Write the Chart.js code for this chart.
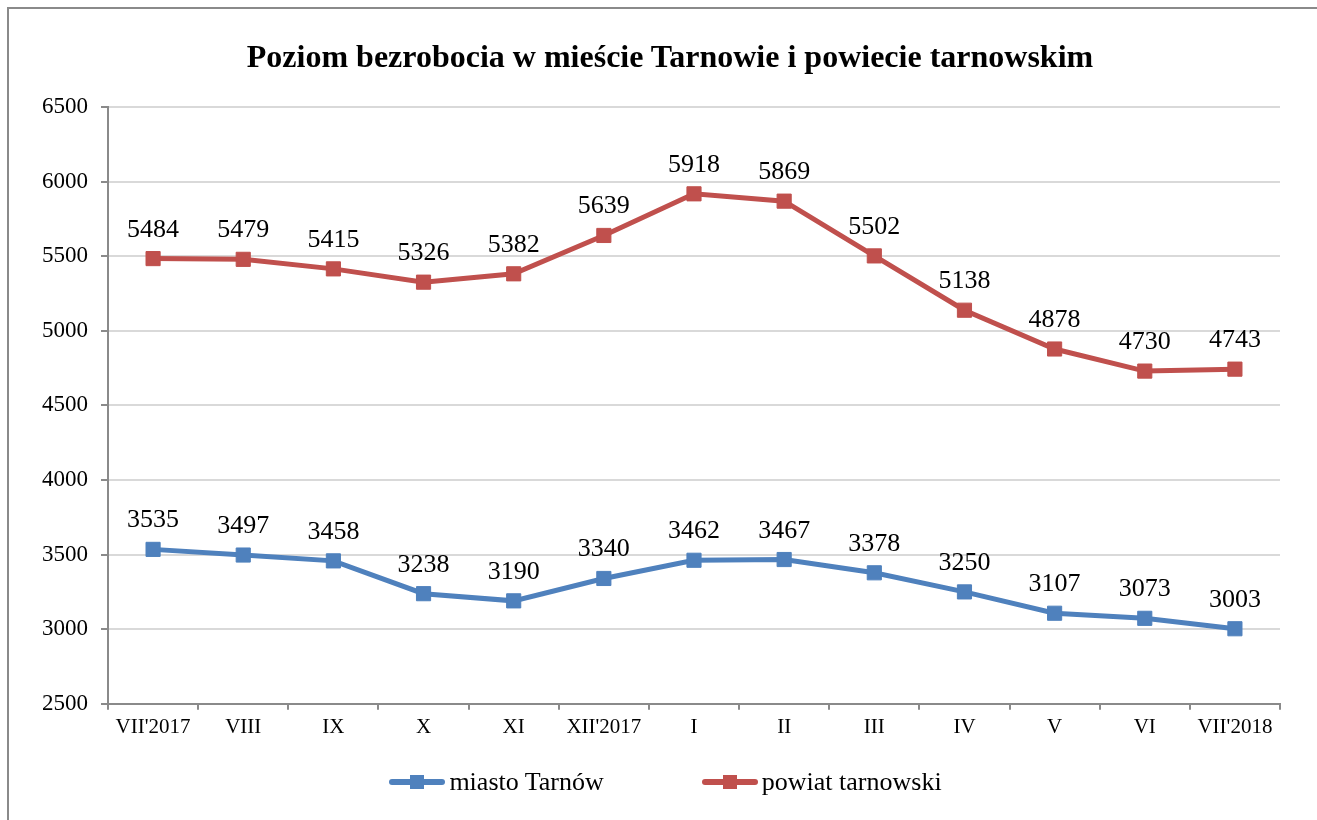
<!DOCTYPE html>
<html>
<head>
<meta charset="utf-8">
<script src="https://cdn.jsdelivr.net/npm/chart.js@4/dist/chart.umd.min.js"></script>
<style>
    html, body { margin: 0; padding: 0; background: #fff; overflow: hidden; }
    .frame {
        position: absolute; left: 7px; top: 7px;
        width: 1400px; height: 900px;
        border: 2px solid #8a8a8a;
    }
    #chart { position: absolute; left: 0; top: 0; }
    .title {
        position: absolute; left: 0; width: 1340px; top: 37px;
        text-align: center; line-height: 38px;
        font-family: "Liberation Serif", "Times New Roman", serif;
        font-size: 32px; font-weight: bold; color: #000;
    }
    .legend {
        position: absolute; left: 7px; width: 1317px; top: 767px; height: 30px;
        display: flex; justify-content: center; align-items: center;
        font-family: "Liberation Serif", "Times New Roman", serif;
        font-size: 26px; line-height: 30px; color: #000;
    }
    .legend .item { display: flex; align-items: center; margin: 0 49px; }
    .legend .icon {
        position: relative; width: 56px; height: 6px; border-radius: 3px;
        margin-right: 4px;
    }
    .legend .icon::after {
        content: ''; position: absolute; left: 21px; top: -4px;
        width: 14px; height: 14px; background: inherit; border-radius: 0;
    }
</style>
</head>
<body>
<div class="frame"></div>
<canvas id="chart" width="1317" height="820"></canvas>
<div class="title">Poziom bezrobocia w mieście Tarnowie i powiecie tarnowskim</div>
<div class="legend" id="legend"></div>
<script>
// Dane
const months = ["VII'2017", 'VIII', 'IX', 'X', 'XI', "XII'2017", 'I', 'II', 'III', 'IV', 'V', 'VI', "VII'2018"];
const miastoTarnow = [3535, 3497, 3458, 3238, 3190, 3340, 3462, 3467, 3378, 3250, 3107, 3073, 3003];
const powiatTarnowski = [5484, 5479, 5415, 5326, 5382, 5639, 5918, 5869, 5502, 5138, 4878, 4730, 4743];
const yTicks = [2500, 3000, 3500, 4000, 4500, 5000, 5500, 6000, 6500];

const BLUE = '#4f81bd';
const RED = '#c0504d';
const SERIF = '"Liberation Serif", "Times New Roman", serif';

// Etykiety wartości nad punktami
const valueLabels = {
    id: 'valueLabels',
    afterDatasetsDraw(chart) {
        const ctx = chart.ctx;
        ctx.save();
        ctx.font = '26px ' + SERIF;
        ctx.fillStyle = '#000';
        ctx.textAlign = 'center';
        ctx.textBaseline = 'alphabetic';
        chart.data.datasets.forEach((ds, i) => {
            chart.getDatasetMeta(i).data.forEach((pt, j) => {
                ctx.fillText(String(ds.data[j]), pt.x, pt.y - 22);
            });
        });
        ctx.restore();
    }
};

const ctx = document.getElementById('chart').getContext('2d');
const chart = new Chart(ctx, {
    type: 'line',
    data: {
        labels: months,
        datasets: [
            {
                label: 'miasto Tarnów',
                data: miastoTarnow,
                borderColor: BLUE,
                backgroundColor: BLUE,
                borderWidth: 5,
                pointStyle: 'rect',
                pointRadius: 10,
                pointBorderWidth: 1,
                tension: 0
            },
            {
                label: 'powiat tarnowski',
                data: powiatTarnowski,
                borderColor: RED,
                backgroundColor: RED,
                borderWidth: 5,
                pointStyle: 'rect',
                pointRadius: 10,
                pointBorderWidth: 1,
                tension: 0
            }
        ]
    },
    options: {
        responsive: false,
        animation: false,
        layout: {
            padding: { left: 29, right: 37, top: 107, bottom: 75 }
        },
        scales: {
            x: {
                offset: true,
                grid: {
                    offset: true,
                    drawOnChartArea: false,
                    tickLength: 6,
                    tickColor: '#8a8a8a',
                    lineWidth: 2
                },
                border: { color: '#8a8a8a', width: 2 },
                ticks: {
                    color: '#000',
                    font: { family: SERIF, size: 21 },
                    padding: 5,
                    maxRotation: 0,
                    autoSkip: false
                }
            },
            y: {
                min: 2500,
                max: 6500,
                afterBuildTicks(scale) {
                    scale.ticks = yTicks.map(v => ({ value: v }));
                },
                grid: {
                    color: '#d9d9d9',
                    lineWidth: 2,
                    tickLength: 7,
                    tickColor: '#8a8a8a'
                },
                border: { color: '#8a8a8a', width: 2 },
                ticks: {
                    color: '#000',
                    font: { family: SERIF, size: 23 },
                    padding: 13,
                    callback: v => String(v)
                }
            }
        },
        plugins: {
            title: { display: false },
            legend: { display: false },
            tooltip: { enabled: false }
        }
    },
    plugins: [valueLabels]
});

// Legenda pod wykresem
const legendEl = document.getElementById('legend');
chart.data.datasets.forEach(ds => {
    const item = document.createElement('span');
    item.className = 'item';
    const icon = document.createElement('span');
    icon.className = 'icon';
    icon.style.background = ds.borderColor;
    item.appendChild(icon);
    item.appendChild(document.createTextNode(ds.label));
    legendEl.appendChild(item);
});
</script>
</body>
</html>
